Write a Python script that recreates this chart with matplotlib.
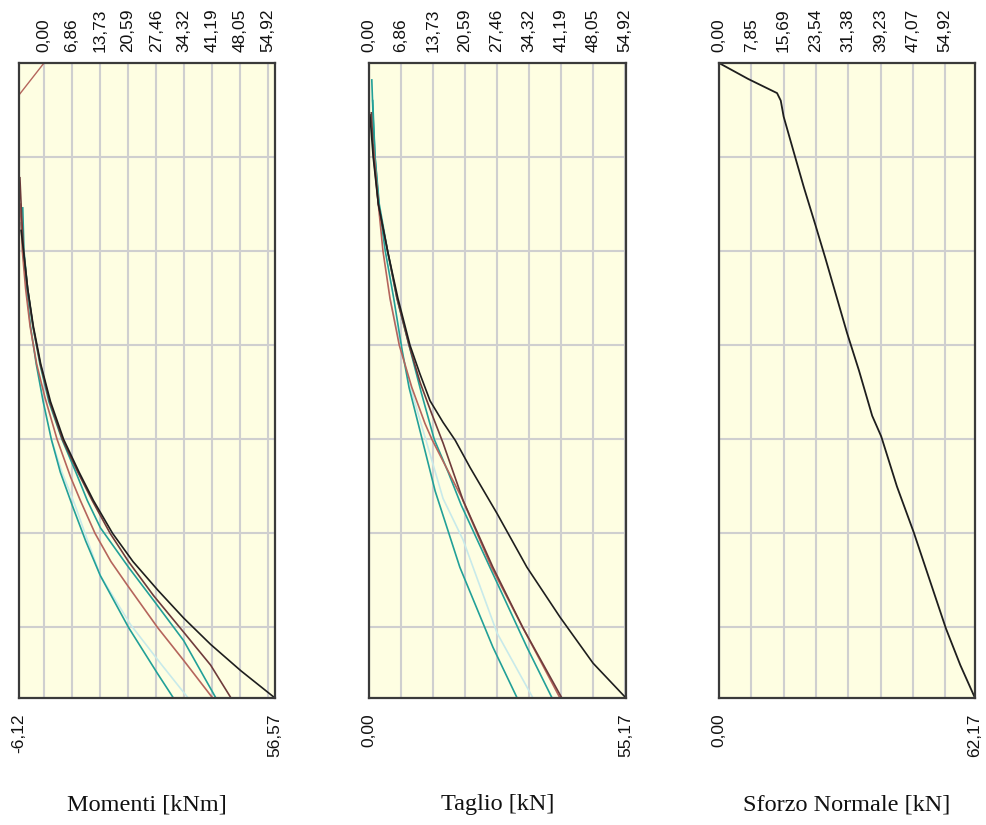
import matplotlib.pyplot as plt

# wall depth (m) on the vertical axis, top = 0
wall_h = 6.75
depth_lines = [1, 2, 3, 4, 5, 6]

# --- top tick labels
mt_ticks = [0.0, 6.865, 13.73, 20.595, 27.46, 34.325, 41.19, 48.055, 54.92]
mt_labels = ['0,00', '6,86', '13,73', '20,59', '27,46', '34,32', '41,19', '48,05', '54,92']
n_ticks = [0.0, 7.846, 15.691, 23.537, 31.383, 39.229, 47.074, 54.92]
n_labels = ['0,00', '7,85', '15,69', '23,54', '31,38', '39,23', '47,07', '54,92']

mom_min, mom_max = -6.12, 56.57
tag_min, tag_max = 0.0, 55.17
nor_min, nor_max = 0.0, 62.17

# --- Momenti [kNm]
m_top_v = [0.0, -6.12]
m_top_d = [0.0, 0.34]

m_black_v = [-5.6, -5.0, -4.0, -2.6, -0.8, 1.6, 4.8, 8.6, 12.1, 16.8, 21.8, 27.8, 34.2, 40.8, 48.2, 56.57]
m_black_d = [1.78, 2.0, 2.4, 2.8, 3.2, 3.6, 4.0, 4.35, 4.65, 5.0, 5.3, 5.6, 5.9, 6.18, 6.46, 6.75]

m_dbrown_v = [-5.9, -5.5, -5.0, -4.0, -2.7, -0.9, 1.4, 4.5, 8.3, 11.8, 16.2, 20.7, 26.8, 34.2, 40.8, 45.8]
m_dbrown_d = [1.22, 1.6, 2.0, 2.4, 2.8, 3.2, 3.6, 4.0, 4.35, 4.65, 5.0, 5.3, 5.66, 6.05, 6.4, 6.75]

m_teal2_v = [-5.2, -4.9, -4.0, -2.7, -1.0, 1.2, 4.4, 7.8, 10.6, 13.8, 20.7, 26.8, 34.2, 42.1]
m_teal2_d = [1.54, 2.0, 2.4, 2.8, 3.2, 3.6, 4.0, 4.35, 4.65, 4.94, 5.36, 5.71, 6.14, 6.75]

m_red_v = [-5.8, -5.3, -4.5, -3.4, -1.8, 0.2, 3.2, 6.5, 8.9, 12.5, 16.4, 20.4, 27.8, 34.2, 41.3]
m_red_d = [1.5, 2.0, 2.4, 2.8, 3.2, 3.55, 4.0, 4.4, 4.65, 5.0, 5.3, 5.55, 6.0, 6.35, 6.75]

m_pale_v = [1.8, 4.4, 7.6, 10.7, 13.8, 17.5, 21.2, 28.5, 35.3]
m_pale_d = [4.0, 4.35, 4.7, 5.08, 5.45, 5.71, 5.97, 6.38, 6.75]

m_teal1_v = [-5.6, -5.1, -4.3, -3.3, -1.9, -0.2, 1.8, 4.0, 6.9, 10.2, 13.8, 20.7, 27.8, 31.7]
m_teal1_d = [1.7, 2.0, 2.4, 2.8, 3.2, 3.6, 4.0, 4.35, 4.7, 5.08, 5.45, 6.0, 6.49, 6.75]

# --- Taglio [kN]
t_black_v = [0.2, 0.9, 2.0, 4.0, 6.2, 8.8, 10.9, 13.1, 15.9, 18.5, 21.7, 27.5, 33.9, 41.0, 48.1, 55.17]
t_black_d = [0.55, 1.0, 1.5, 2.0, 2.5, 3.0, 3.3, 3.59, 3.82, 4.01, 4.3, 4.79, 5.36, 5.89, 6.38, 6.75]

t_dbrown_v = [0.5, 1.0, 2.0, 4.0, 6.0, 8.6, 11.0, 13.4, 15.9, 20.2, 26.6, 33.0, 41.4]
t_dbrown_d = [0.53, 1.0, 1.5, 2.0, 2.5, 3.0, 3.4, 3.72, 4.04, 4.65, 5.36, 6.0, 6.75]

t_teal2_v = [0.6, 0.9, 1.3, 2.2, 4.0, 6.0, 8.6, 11.2, 14.0, 17.0, 19.8, 26.6, 33.9, 39.3]
t_teal2_d = [0.18, 0.6, 1.0, 1.5, 2.0, 2.5, 3.0, 3.5, 4.0, 4.35, 4.7, 5.43, 6.21, 6.75]

t_red_v = [0.9, 1.5, 2.0, 3.0, 4.5, 6.5, 9.2, 12.0, 13.5, 20.0, 26.3, 33.0, 41.0]
t_red_d = [0.87, 1.2, 1.5, 2.0, 2.5, 3.0, 3.45, 3.83, 4.0, 4.63, 5.36, 6.0, 6.75]

t_pale_v = [4.5, 6.7, 9.5, 12.7, 15.9, 20.2, 27.5, 35.2]
t_pale_d = [2.5, 3.0, 3.55, 4.09, 4.63, 5.07, 6.06, 6.75]

t_teal1_v = [0.8, 1.3, 2.1, 3.5, 5.3, 7.1, 8.6, 10.9, 14.2, 19.5, 26.6, 31.8]
t_teal1_d = [0.4, 1.0, 1.5, 2.0, 2.5, 3.05, 3.45, 3.9, 4.55, 5.36, 6.21, 6.75]

# --- Sforzo Normale [kN]
n_v = [0.0, 7.1, 14.1, 15.0, 15.7, 18.5, 20.6, 23.4, 25.8, 31.1, 34.0, 37.2, 39.4, 43.2, 47.3, 51.2, 55.1, 58.6, 62.17]
n_d = [0.0, 0.17, 0.32, 0.40, 0.57, 1.0, 1.32, 1.72, 2.07, 2.87, 3.27, 3.75, 3.97, 4.5, 4.99, 5.5, 6.01, 6.4, 6.75]

c_black = '#1e1e1e'
c_dbrown = '#6e3b3b'
c_red = '#b5655c'
c_teal = '#22a098'
c_pale = '#c8eaea'

plt.rcParams['font.family'] = 'Liberation Sans'

fig = plt.figure(figsize=(9.87, 8.25), dpi=100)
fig.patch.set_facecolor('white')


def setup(ax, xmin, xmax, ticks, labels, title):
    ax.set_facecolor('#fefee2')
    ax.set_xlim(xmin, xmax)
    ax.set_ylim(wall_h, 0)
    ax.xaxis.tick_top()
    ax.set_xticks(ticks)
    ax.set_xticklabels(labels)
    ax.set_yticks(depth_lines)
    ax.set_yticklabels([])
    ax.tick_params(axis='x', length=0, pad=8, labelsize=12.5, labelrotation=90, colors='#111111')
    ax.tick_params(axis='y', length=0)
    ax.grid(True, color='#cfcfcf', lw=1.5)
    ax.set_axisbelow(True)
    for s in ax.spines.values():
        s.set_color('#3a3a3a')
        s.set_linewidth(1.6)
    tr = ax.get_xaxis_transform()
    ax.text(xmin, -0.024, ('%.2f' % xmin).replace('.', ','), transform=tr,
            rotation=90, ha='center', va='top', fontsize=12.5, color='#111111')
    ax.text(xmax, -0.024, ('%.2f' % xmax).replace('.', ','), transform=tr,
            rotation=90, ha='center', va='top', fontsize=12.5, color='#111111')
    ax.text(0.5, -0.168, title, transform=ax.transAxes, ha='center', va='center',
            fontsize=17.5, family='Liberation Serif', color='#111111')


# subplot 1
ax1 = fig.add_axes([0.01925, 0.15394, 0.25937, 0.7697])
setup(ax1, mom_min, mom_max, mt_ticks, mt_labels, 'Momenti [kNm]')
ax1.plot(m_top_v, m_top_d, color=c_red, lw=1.0)
ax1.plot(m_pale_v, m_pale_d, color=c_pale, lw=1.2)
ax1.plot(m_teal1_v, m_teal1_d, color=c_teal, lw=1.2)
ax1.plot(m_red_v, m_red_d, color=c_red, lw=1.2)
ax1.plot(m_teal2_v, m_teal2_d, color=c_teal, lw=1.2)
ax1.plot(m_dbrown_v, m_dbrown_d, color=c_dbrown, lw=1.2)
ax1.plot(m_black_v, m_black_d, color=c_black, lw=1.2)

# subplot 2
ax2 = fig.add_axes([0.37386, 0.15394, 0.26039, 0.7697])
setup(ax2, tag_min, tag_max, mt_ticks, mt_labels, 'Taglio [kN]')
ax2.plot(t_pale_v, t_pale_d, color=c_pale, lw=1.2)
ax2.plot(t_teal1_v, t_teal1_d, color=c_teal, lw=1.2)
ax2.plot(t_teal2_v, t_teal2_d, color=c_teal, lw=1.2)
ax2.plot(t_red_v, t_red_d, color=c_red, lw=1.2)
ax2.plot(t_dbrown_v, t_dbrown_d, color=c_dbrown, lw=1.2)
ax2.plot(t_black_v, t_black_d, color=c_black, lw=1.2)

# subplot 3
ax3 = fig.add_axes([0.72847, 0.15394, 0.25937, 0.7697])
setup(ax3, nor_min, nor_max, n_ticks, n_labels, 'Sforzo Normale [kN]')
ax3.plot(n_v, n_d, color=c_black, lw=1.3)

fig.savefig('out.png', dpi=100)
